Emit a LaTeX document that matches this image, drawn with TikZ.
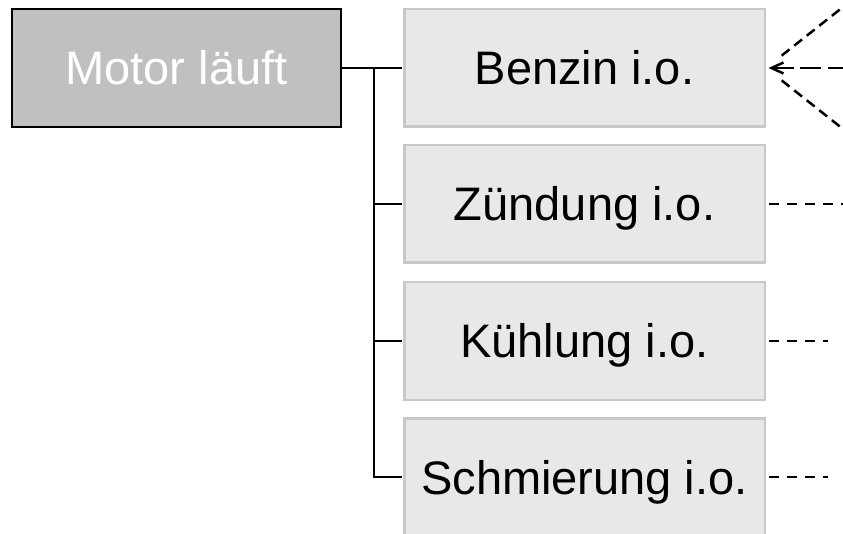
\documentclass[tikz,border=0pt]{standalone}
\usepackage{fontspec}
\setmainfont{Liberation Sans}
\usetikzlibrary{arrows.meta}
\definecolor{rootfill}{HTML}{C0C0C0}
\definecolor{leaffill}{HTML}{E8E8E8}
\definecolor{leafline}{HTML}{C8C8C8}
\begin{document}
\begin{tikzpicture}[x=1pt,y=-1pt,
  boxfont/.style={font=\fontsize{47}{56}\selectfont, text height=34pt, text depth=0pt, inner sep=0pt},
  rootbox/.style={boxfont, draw=black, line width=2pt, fill=rootfill, text=white,
    minimum width=329pt, minimum height=118pt},
  leafbox/.style={boxfont, draw=leafline, line width=2.5pt, fill=leaffill, text=black,
    minimum width=360.5pt, minimum height=117.5pt},
  tree/.style={line width=2.2pt, black, shorten >=1.25pt},
  link/.style={line width=2.5pt, black, dash pattern=on 10.3pt off 7.7pt, shorten <=3pt},
  mainlink/.style={line width=2.5pt, black, dash pattern=on 21pt off 6.5pt,
    {Straight Barb[length=12pt,width=11pt]}-, shorten <=2.5pt},
  sidelink/.style={line width=2.5pt, black, dash pattern=on 10pt off 6pt, shorten <=20pt}]
\useasboundingbox (0,0) rectangle (843,534);

% the goal and its four conditions
\node[rootbox] (motor) at (176.5,68) {Motor läuft};
\node[leafbox] (benzin) at (584.5,68) {Benzin i.o.};
\node[leafbox] (zuend) at (584.5,204) {Zündung i.o.};
\node[leafbox] (kuehl) at (584.5,341) {Kühlung i.o.};
\node[leafbox] (schmier) at (584.5,477) {Schmierung i.o.};

% tree connectors
\coordinate (bus) at (374,68);
\draw[tree] (motor.east) -- (benzin.west);
\draw[tree] (bus) |- (schmier.west);
\draw[tree] (bus |- zuend.west) -- (zuend.west);
\draw[tree] (bus |- kuehl.west) -- (kuehl.west);

% outgoing dashed links on the right
\coordinate (bz-up) at (843,7);
\coordinate (bz-mid) at (843,68);
\coordinate (bz-low) at (843,129);
\coordinate (zd-end) at (843,204);
\coordinate (kh-end) at (828,341);
\coordinate (sm-end) at (828,477);

\draw[mainlink] (benzin.east) -- (bz-mid);
\draw[sidelink] (benzin.east) -- (bz-up);
\draw[sidelink] (benzin.east) -- (bz-low);
\draw[link] (zuend.east) -- (zd-end);
\draw[link] (kuehl.east) -- (kh-end);
\draw[link] (schmier.east) -- (sm-end);
\end{tikzpicture}
\end{document}
